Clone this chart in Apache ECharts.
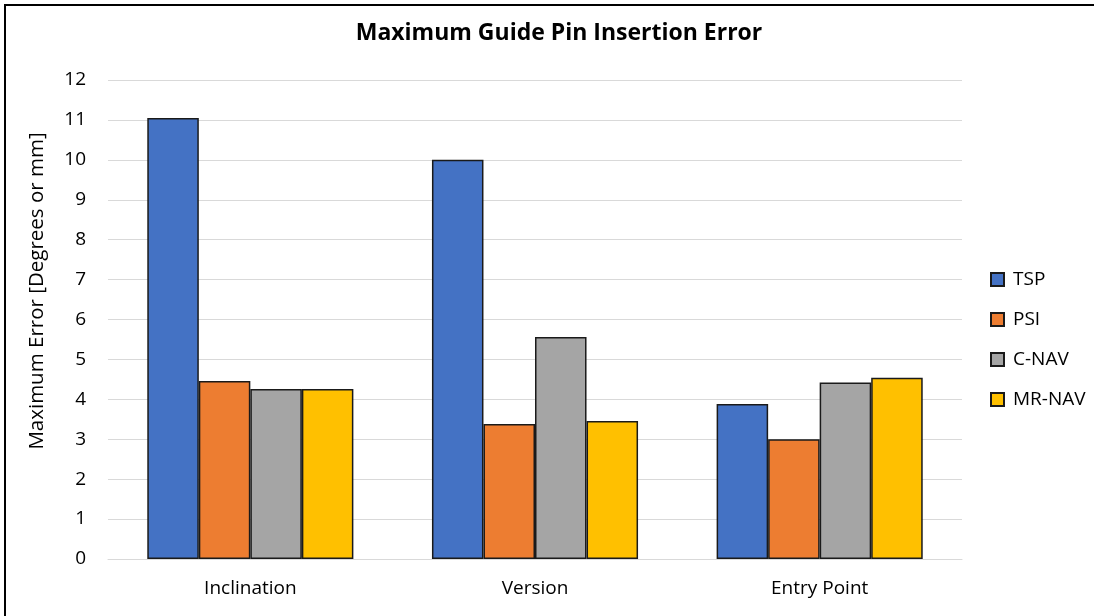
<!DOCTYPE html>
<html>
<head>
<meta charset="utf-8">
<script src="https://cdn.jsdelivr.net/npm/echarts@6/dist/echarts.min.js"></script>
<style>
html,body{margin:0;padding:0;background:#fff;}
#frame{position:absolute;left:4px;top:4px;width:1100px;height:620px;border-left:2px solid #000;border-top:2px solid #000;box-sizing:border-box;}
#chart{position:absolute;left:0;top:0;width:1094px;height:616px;}
</style>
</head>
<body>
<div id="frame"></div>
<div id="chart"></div>
<script>
const categories = ['Inclination', 'Version', 'Entry Point'];
const seriesNames = ['TSP', 'PSI', 'C-NAV', 'MR-NAV'];
const tsp = [11.05, 10.0, 3.88];
const psi = [4.46, 3.38, 3.0];
const cnav = [4.26, 5.56, 4.42];
const mrnav = [4.26, 3.46, 4.54];
const colors = ['#4472C4', '#ED7D31', '#A5A5A5', '#FFC000'];
const values = [tsp, psi, cnav, mrnav];
const font = '"Open Sans", "Noto Sans", sans-serif';

const chart = echarts.init(document.getElementById('chart'));
chart.setOption({
  animation: false,
  backgroundColor: 'transparent',
  title: {
    text: 'Maximum Guide Pin Insertion Error',
    left: 554, top: 17, textAlign: 'center',
    textStyle: {fontFamily: font, fontSize: 23, fontWeight: 'bold', color: '#000'}
  },
  legend: {
    orient: 'vertical', left: 985, top: 265, itemGap: 21,
    itemWidth: 13, itemHeight: 13, icon: 'rect',
    textStyle: {fontFamily: font, fontSize: 19, color: '#000', padding: [0,0,0,4]},
    data: seriesNames
  },
  grid: {left: 108, right: 132, top: 80, bottom: 57, containLabel: false},
  xAxis: {
    type: 'category', data: categories,
    axisLine: {lineStyle: {color: '#d9d9d9', width: 1}},
    axisTick: {show: false},
    axisLabel: {fontFamily: font, fontSize: 19, color: '#000', margin: 20}
  },
  yAxis: {
    type: 'value', min: 0, max: 12, interval: 1,
    axisLine: {show: false}, axisTick: {show: false},
    splitLine: {lineStyle: {color: '#d9d9d9', width: 1}},
    axisLabel: {fontFamily: font, fontSize: 19, color: '#000', margin: 22}
  },
  graphic: [{
    type: 'text', x: 37, y: 291, rotation: Math.PI / 2,
    style: {text: 'Maximum Error [Degrees or mm]', fontFamily: font, fontSize: 20.5, fill: '#000', textAlign: 'center', textVerticalAlign: 'middle'}
  }],
  series: seriesNames.map((n, i) => ({
    name: n, type: 'bar', data: values[i],
    barGap: '0%', barCategoryGap: '27.6%',
    itemStyle: {color: colors[i], borderColor: '#1a1a1a', borderWidth: 1.5}
  }))
});
</script>
</body>
</html>
